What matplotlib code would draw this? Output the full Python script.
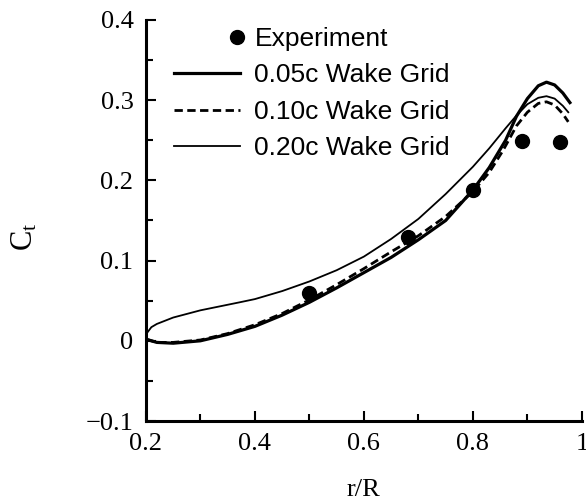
import matplotlib
matplotlib.use("Agg")
import matplotlib.pyplot as plt
import numpy as np
from matplotlib.ticker import MultipleLocator, FuncFormatter
from matplotlib.legend_handler import HandlerLine2DCompound

plt.rcParams['mathtext.fontset'] = 'custom'
plt.rcParams['mathtext.rm'] = 'Liberation Serif'
plt.rcParams['mathtext.it'] = 'Liberation Serif'

# experiment points
exp_r = [0.50, 0.68, 0.80, 0.89, 0.96]
exp_ct = [0.060, 0.130, 0.188, 0.249, 0.248]

# 0.05c wake grid
r_05 = [0.2, 0.22, 0.25, 0.3, 0.35, 0.4, 0.45, 0.5, 0.55, 0.6, 0.65, 0.7,
        0.75, 0.8, 0.83, 0.86, 0.88, 0.9, 0.92, 0.935, 0.95, 0.965, 0.978]
ct_05 = [0.002, -0.002, -0.003, 0.0, 0.008, 0.018, 0.032, 0.048, 0.066, 0.085,
         0.104, 0.126, 0.150, 0.188, 0.216, 0.250, 0.280, 0.302, 0.318, 0.3225,
         0.319, 0.309, 0.297]

# 0.10c wake grid
r_10 = [0.2, 0.22, 0.25, 0.3, 0.35, 0.4, 0.45, 0.5, 0.55, 0.6, 0.65, 0.7,
        0.75, 0.8, 0.83, 0.855, 0.88, 0.9, 0.92, 0.935, 0.95, 0.965, 0.975]
ct_10 = [0.002, -0.002, -0.002, 0.001, 0.009, 0.020, 0.034, 0.051, 0.070, 0.090,
         0.111, 0.131, 0.155, 0.186, 0.210, 0.237, 0.268, 0.285, 0.296, 0.298,
         0.294, 0.283, 0.273]

# 0.20c wake grid
r_20 = [0.2, 0.21, 0.22, 0.25, 0.3, 0.372, 0.4, 0.45, 0.5, 0.55, 0.6, 0.65,
        0.7, 0.75, 0.8, 0.83, 0.86, 0.88, 0.9, 0.92, 0.935, 0.95, 0.965, 0.975]
ct_20 = [0.008, 0.017, 0.021, 0.029, 0.038, 0.048, 0.052, 0.062, 0.074, 0.088,
         0.105, 0.127, 0.152, 0.183, 0.217, 0.240, 0.265, 0.281, 0.295, 0.303,
         0.305, 0.302, 0.293, 0.285]

labels = ['Experiment', '0.05c Wake Grid', '0.10c Wake Grid', '0.20c Wake Grid']


class RightMarker(HandlerLine2DCompound):
    # put the single legend marker at the right end of the handle
    def get_xdata(self, legend, xdescent, ydescent, width, height, fontsize):
        xdata, xm = super().get_xdata(legend, xdescent, ydescent, width, height, fontsize)
        return xdata, np.array([width - xdescent - 0.1 * fontsize])


fig = plt.figure(figsize=(5.86, 5.0), dpi=100)
ax = fig.add_axes([0.249, 0.158, 0.744, 0.802])

h0, = ax.plot(exp_r, exp_ct, 'o', color='black', markersize=10, linestyle='none')
h1, = ax.plot(r_05, ct_05, '-', color='black', lw=2.3)
h2, = ax.plot(r_10, ct_10, color='black', lw=2.0, dashes=(3.0, 1.6))
h3, = ax.plot(r_20, ct_20, '-', color='black', lw=1.3)

ax.set_xlim(0.2, 1.0)
ax.set_ylim(-0.1, 0.4)
for s in ['top', 'right']:
    ax.spines[s].set_visible(False)
for s in ['left', 'bottom']:
    ax.spines[s].set_linewidth(2.2)

ax.xaxis.set_major_locator(MultipleLocator(0.2))
ax.xaxis.set_minor_locator(MultipleLocator(0.1))
ax.yaxis.set_major_locator(MultipleLocator(0.1))
ax.yaxis.set_minor_locator(MultipleLocator(0.05))
fmt = FuncFormatter(lambda v, p: ('%g' % round(v, 3)).replace('-', '\u2212'))
ax.xaxis.set_major_formatter(fmt)
ax.yaxis.set_major_formatter(fmt)
ax.tick_params(which='both', direction='in', width=1.5, pad=9)
ax.tick_params(which='major', length=7)
ax.tick_params(which='minor', length=5)
for t in ax.get_xticklabels() + ax.get_yticklabels():
    t.set_fontfamily('Liberation Serif')
    t.set_fontsize(19)

ax.set_xlabel('r/R', family='Liberation Serif', fontsize=19)
ax.xaxis.set_label_coords(0.5, -0.145)
ax.set_ylabel(r'C$_\mathregular{t}$', family='Liberation Serif', fontsize=22)
ax.yaxis.set_label_coords(-0.245, 0.46)

leg = ax.legend([h0, h1, h2, h3], labels, loc='upper left',
                bbox_to_anchor=(174 / 586, 1 - 27 / 500), bbox_transform=fig.transFigure,
                frameon=False, borderpad=0, borderaxespad=0, handlelength=2.5,
                handletextpad=0.55, labelspacing=0.47,
                prop={'family': 'Liberation Sans', 'size': 19},
                handler_map={h0: RightMarker(numpoints=1)})

fig.savefig('out.png', dpi=100)
